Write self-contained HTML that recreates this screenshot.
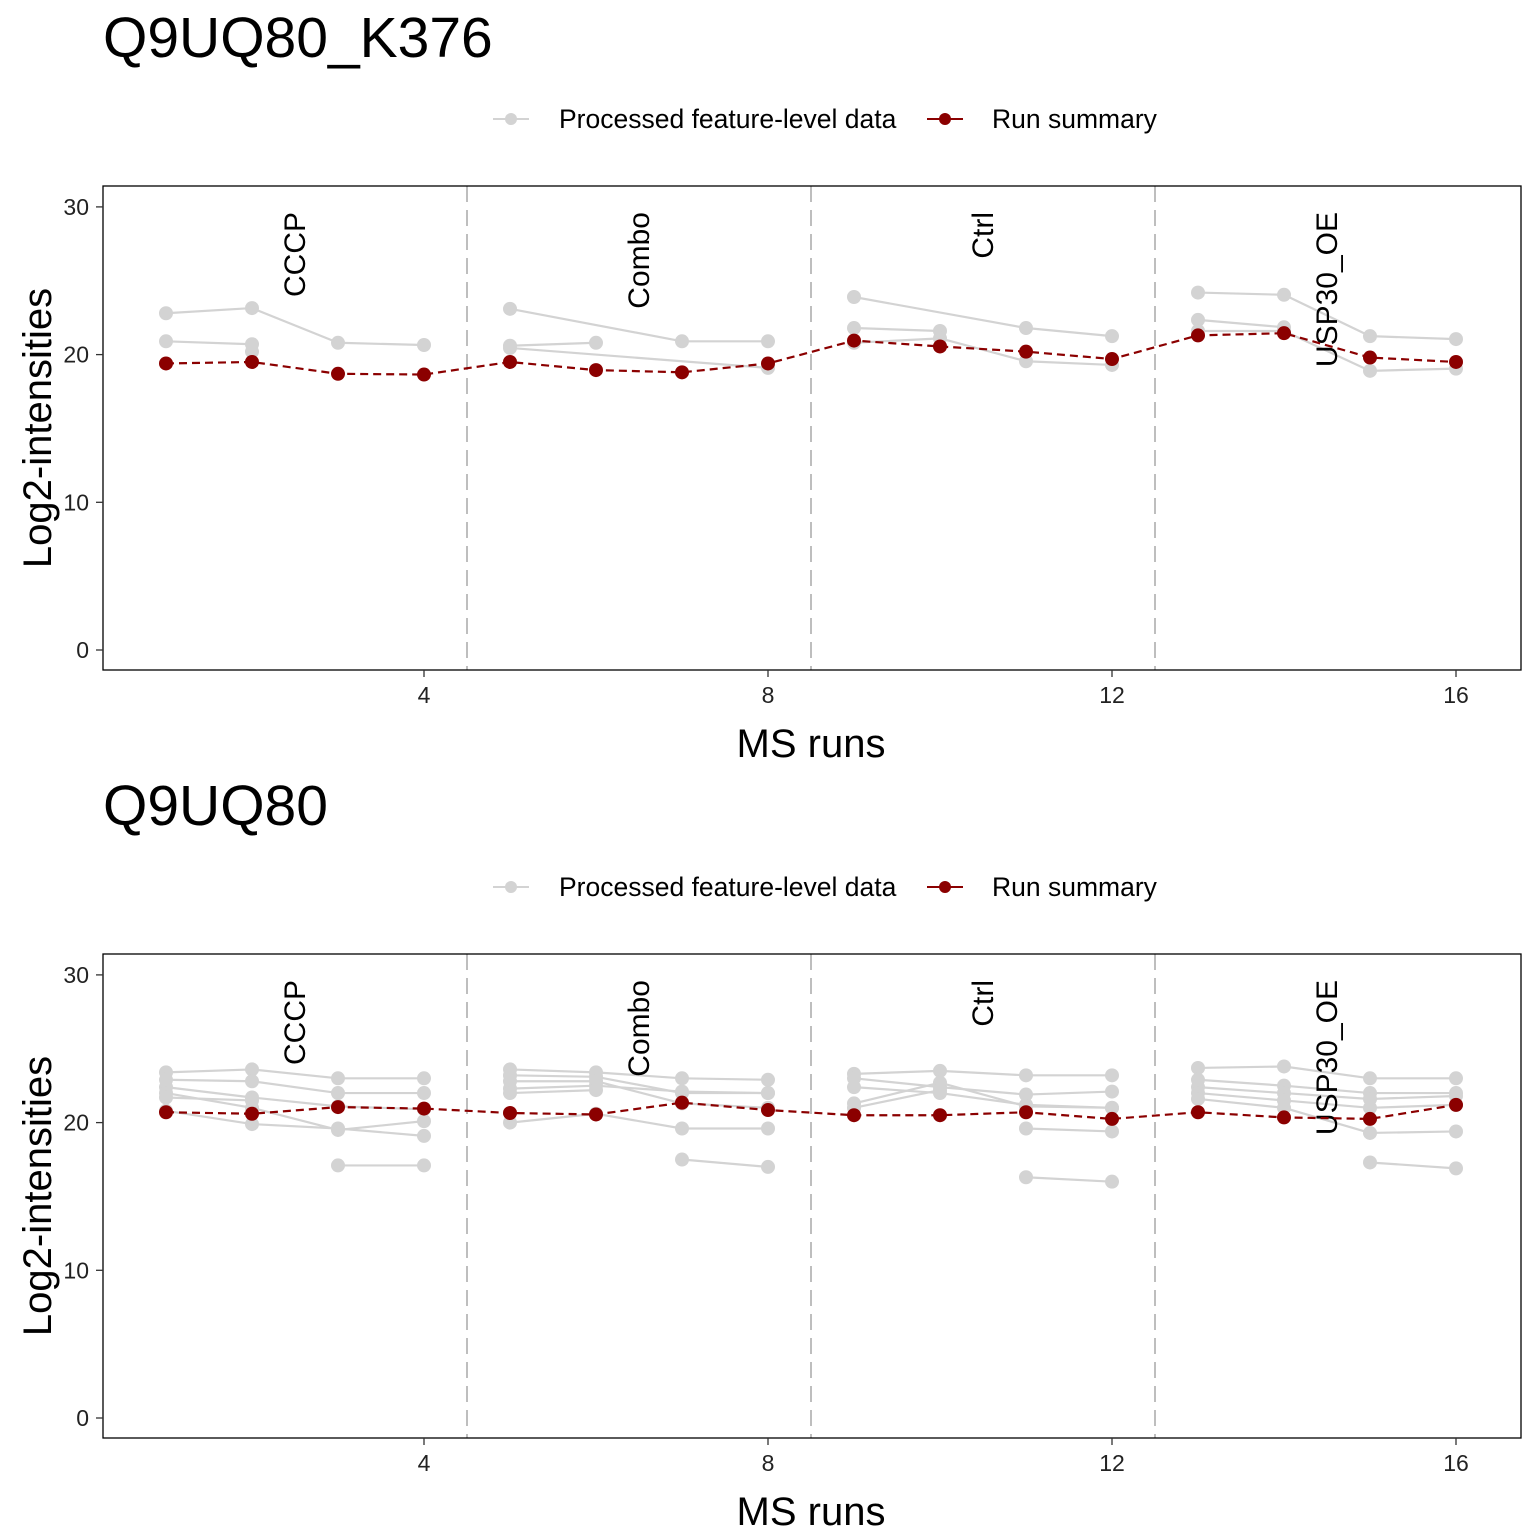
<!DOCTYPE html>
<html><head><meta charset="utf-8"><style>
html,body{margin:0;padding:0;background:#fff}
svg{display:block;font-family:"Liberation Sans",Arial,sans-serif}
</style></head><body>
<svg id="chart" width="1536" height="1536" xmlns="http://www.w3.org/2000/svg"></svg>
<script>
const runs = [1,2,3,4,5,6,7,8,9,10,11,12,13,14,15,16];
const conditions = ["CCCP","Combo","Ctrl","USP30_OE"];
const conditionCenters = [2.5,6.5,10.5,14.5];
const conditionBreaks = [4.5,8.5,12.5];
const xTicks = [4,8,12,16];
const yTicks = [0,10,20,30];
const N = null;
const titles = ["Q9UQ80_K376","Q9UQ80"];
// panel 1 features
const p1f1 = [22.8,23.15,20.8,20.65, 23.1,N,20.9,20.9, 23.9,N,21.8,21.25, 24.2,24.05,21.25,21.05];
const p1f2 = [20.9,20.7,N,N, 20.6,20.8,N,N, 21.8,21.6,N,N, 22.35,21.85,N,N];
const p1f3 = [N,20.2,N,N, 20.45,N,N,19.1, 20.8,21.1,19.55,19.3, 21.6,21.6,18.9,19.05];
const p1summary = [19.4,19.5,18.7,18.65, 19.5,18.95,18.8,19.4, 20.95,20.55,20.2,19.7, 21.3,21.45,19.8,19.5];
// panel 2 features
const p2f1 = [23.4,23.6,23.0,23.0, 23.6,23.4,23.0,22.9, 23.3,23.5,23.2,23.2, 23.7,23.8,23.0,23.0];
const p2f2 = [22.9,22.8,22.0,22.0, 23.2,23.1,22.0,22.0, 23.0,22.4,21.9,22.1, 22.9,22.5,22.0,22.0];
const p2f3 = [22.4,21.7,21.1,20.9, 22.8,22.8,21.3,21.0, 22.4,22.0,21.2,21.0, 22.4,22.0,21.6,21.8];
const p2f4 = [22.0,21.0,19.5,20.1, 22.3,22.5,22.1,22.0, 21.3,22.7,21.1,21.0, 22.0,21.5,21.0,21.2];
const p2f5 = [21.7,21.5,N,N, 22.0,22.2,N,N, 21.0,22.2,N,N, 21.6,21.0,19.3,19.4];
const p2f6 = [20.8,19.9,19.6,19.1, 20.0,20.6,19.6,19.6, N,N,19.6,19.4, N,N,N,N];
const p2f7 = [N,N,17.1,17.1, N,N,17.5,17.0, N,N,16.3,16.0, N,N,17.3,16.9];
const p2summary = [20.7,20.6,21.05,20.95, 20.65,20.55,21.35,20.85, 20.5,20.5,20.7,20.25, 20.7,20.35,20.25,21.2];

const panelFeatures = [[p1f1,p1f2,p1f3],[p2f1,p2f2,p2f3,p2f4,p2f5,p2f6,p2f7]];
const panelSummary = [p1summary,p2summary];

const svg = document.getElementById('chart');
const NS = "http://www.w3.org/2000/svg";
function mk(tag, attrs, parent){const e=document.createElementNS(NS,tag);for(const k in attrs)e.setAttribute(k,attrs[k]);(parent||svg).appendChild(e);return e;}

const offsets = [0,768];
offsets.forEach((off,pi)=>{
  const g = mk('g',{});
  
  
  const xs = v => 166 + (v-1)*86;
  const ys = v => (650+off) - v*14.77;
  const t = mk('text',{x:103,y:57+off,'font-size':57,fill:'#000'},g); t.textContent=titles[pi];
  
  
  // legend
  const lg = mk('g',{},g);
  
  
  mk('line',{x1:493,x2:529,y1:119+off,y2:119+off,stroke:'#d3d3d3','stroke-width':2},lg);
  mk('circle',{cx:511,cy:119+off,r:6,fill:'#d3d3d3'},lg);
  let lt=mk('text',{x:559,y:128+off,'font-size':26.5},lg); lt.textContent='Processed feature-level data';
  
  
  mk('line',{x1:927,x2:963,y1:119+off,y2:119+off,stroke:'#8b0000','stroke-width':2},lg);
  mk('circle',{cx:945,cy:119+off,r:6,fill:'#8b0000'},lg);
  lt=mk('text',{x:992,y:128+off,'font-size':26.5},lg); lt.textContent='Run summary';
  
  
  const top=186+off, bot=670+off;
  conditionBreaks.forEach(b=>{
    const l=mk('line',{x1:xs(b),x2:xs(b),y1:top,y2:bot,stroke:'#bebebe','stroke-width':2,'stroke-dasharray':'16,8'},g);
    
    
  });
  // features (connect consecutive non-null points within each condition)
  panelFeatures[pi].forEach(f=>{
    let segs=[];
    for(let c=0;c<4;c++){
      let prev=null;
      for(let i=c*4;i<c*4+4;i++){
        if(f[i]===null) continue;
        if(prev!==null) segs.push(`M${xs(runs[prev])},${ys(f[prev])}L${xs(runs[i])},${ys(f[i])}`);
        prev=i;
      }
    }
    const p=mk('path',{d:segs.join(''),stroke:'#d3d3d3','stroke-width':2.2,fill:'none'},g);
    
    
    f.forEach((v,i)=>{ if(v!==null){const c=mk('circle',{cx:xs(runs[i]),cy:ys(v),r:7,fill:'#d3d3d3'},g);
      
      }});
  });
  conditions.forEach((c,i)=>{
    const x=xs(conditionCenters[i])+10, y=212+off;
    const tx=mk('text',{x:x,y:y,transform:`rotate(-90 ${x} ${y})`,'text-anchor':'end','font-size':30},g);
    tx.textContent=c;
    
    
  });
  const s=panelSummary[pi];
  const sp=mk('path',{d:s.map((v,i)=>(i?'L':'M')+xs(runs[i])+','+ys(v)).join(''),stroke:'#8b0000','stroke-width':2.2,fill:'none','stroke-dasharray':'8,5'},g);
  
  
  s.forEach((v,i)=>{const c=mk('circle',{cx:xs(runs[i]),cy:ys(v),r:7,fill:'#8b0000'},g);
    
    });
  mk('rect',{x:103,y:top,width:1418,height:bot-top,fill:'none',stroke:'#000','stroke-width':1.3},g);
  xTicks.forEach(v=>{
    mk('line',{x1:xs(v),x2:xs(v),y1:bot,y2:bot+7,stroke:'#333','stroke-width':1.3},g);
    const tt=mk('text',{x:xs(v),y:bot+33,'text-anchor':'middle','font-size':23,fill:'#222'},g); tt.textContent=v;
    
    
  });
  yTicks.forEach(v=>{
    mk('line',{x1:96,x2:103,y1:ys(v),y2:ys(v),stroke:'#333','stroke-width':1.3},g);
    const tt=mk('text',{x:89,y:ys(v)+8,'text-anchor':'end','font-size':23,fill:'#222'},g); tt.textContent=v;
    
    
  });
  const xt=mk('text',{x:811,y:757+off,'text-anchor':'middle','font-size':40},g); xt.textContent='MS runs';
  
  
  const yy=428+off;
  const yt=mk('text',{x:51,y:yy,'text-anchor':'middle','font-size':40,transform:`rotate(-90 51 ${yy})`},g); yt.textContent='Log2-intensities';
  
  
});
</script>
</body></html>
